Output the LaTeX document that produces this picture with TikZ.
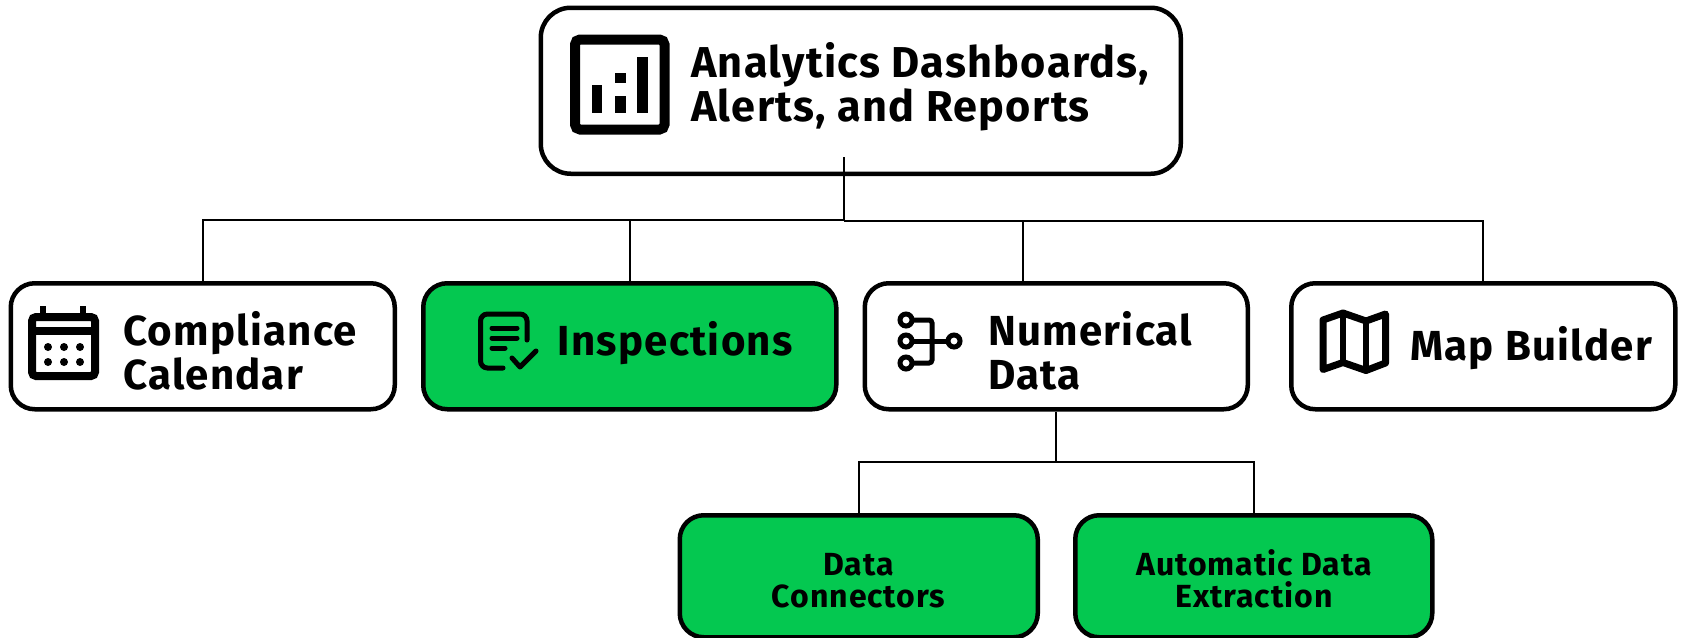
\documentclass[tikz,border=0pt]{standalone}
\usepackage{fontspec}
\setmainfont{Fira Sans}[LetterSpace=3]
\usetikzlibrary{positioning, shapes}
\definecolor{boxgreen}{HTML}{04C850}

\begin{document}
\begin{tikzpicture}[x=1pt, y=-1pt, line cap=butt]
\useasboundingbox (0,0) rectangle (1683,637);
\tikzstyle{every node}=[draw=none, inner sep=0pt];
\tikzstyle{box}=[draw, line width=4.5pt, rounded corners=24pt, anchor=north west, fill=white];
\tikzstyle{greenbox}=[box, fill=boxgreen];
\tikzstyle{bigtext}=[align=left, anchor=base west, font=\bfseries\fontsize{42}{43.5}\selectfont];
\tikzstyle{smalltext}=[align=center, anchor=base, font=\bfseries\fontsize{32}{32}\selectfont];
\tikzstyle{link}=[line width=2pt];
\tikzstyle{icon}=[line width=5pt];
% boxes
\node[box, rounded corners=30pt, minimum width=640pt, minimum height=166pt] (dash) at (538.5,5.5) {};
\node[box, minimum width=384pt, minimum height=126pt] (calendar) at (8.5,281) {};
\node[greenbox, minimum width=413pt, minimum height=126pt] (insp) at (421,281) {};
\node[box, minimum width=383pt, minimum height=126pt] (numeric) at (862.5,281) {};
\node[box, minimum width=384pt, minimum height=126pt] (map) at (1289,281) {};
\node[greenbox, minimum width=358pt, minimum height=122pt] (connect) at (677.5,513) {};
\node[greenbox, minimum width=357pt, minimum height=122pt] (extract) at (1073,513) {};
% labels
\node[bigtext, font=\bfseries\fontsize{43.2}{43.5}\selectfont] (dashtext) at (691,121) {Analytics Dashboards,\\Alerts, and Reports};
\node[bigtext] (caltext) at (123,389) {Compliance\\Calendar};
\node[bigtext] (insptext) at (557.5,355) {Inspections};
\node[bigtext] (numtext) at (988,389) {Numerical\\Data};
\node[bigtext] (maptext) at (1410,360) {Map Builder};
\node[smalltext] (conntext) at (858.5,607) {Data\\Connectors};
\node[smalltext] (exttext) at (1254,607) {Automatic Data\\Extraction};
% connectors
\coordinate (stem) at (844,157);
\coordinate (hub) at (844,220);
\coordinate (hubright) at (844,221);
\coordinate (numdrop) at (1023,281);
\coordinate (fork) at (numeric.south |- 0,462);
\draw[link] (stem) -- (hub);
\draw[link] (hub) -| (calendar.north);
\draw[link] (hub) -| (insp.north);
\draw[link] (hubright) -| (numdrop);
\draw[link] (hubright) -| (map.north);
\draw[link] (numeric.south) -- (fork);
\draw[link] (fork) -| (connect.north);
\draw[link] (fork) -| (extract.north);
% chart icon
\draw[line width=10pt, rounded corners=5pt] (575,39.5) rectangle (664.5,129.5);
\fill (591.5,85) rectangle (602,113);
\fill (614.5,73) rectangle (626,83);
\fill (614.5,96) rectangle (626,113);
\fill (637,57) rectangle (648,113);
% calendar icon
\draw[line width=8pt, rounded corners=4pt] (32,317) rectangle (95,376);
\fill (32,327) rectangle (95,335);
\draw[line width=6pt] (43,306) -- (43,315);
\draw[line width=6pt] (83,306) -- (83,315);
\foreach \px in {48,64,80} {
  \foreach \py in {347,362} {
    \fill (\px,\py) circle (4pt);
  }
}
% inspection icon
\draw[icon, line cap=round, rounded corners=7pt] (503,368) -- (480.5,368) -- (480.5,314) -- (527,314) -- (527,340);
\draw[icon, line cap=round] (492,328) -- (517,328);
\draw[icon, line cap=round] (492,338) -- (517,338);
\draw[icon, line cap=round] (492,348) -- (505,348);
\draw[icon, line cap=round, line join=round] (512,358) -- (520,367) -- (536,351);
% data icon
\draw[line width=5pt] (906,320) circle (6pt);
\draw[line width=5pt] (906,341) circle (6pt);
\draw[line width=5pt] (906,363) circle (6pt);
\draw[line width=5pt] (954,341) circle (6pt);
\draw[line width=5pt, rounded corners=3pt] (912,320) -- (932,320) -- (932,363) -- (912,363);
\draw[line width=5pt] (912,341) -- (948,341);
% map icon
\draw[line width=7pt, line join=round] (1323,320) -- (1343,313) -- (1366,321) -- (1385.5,314) -- (1385.5,363) -- (1366,370.5) -- (1343,362.5) -- (1323,369.5) -- cycle;
\draw[line width=6pt] (1343,313) -- (1343,362.5);
\draw[line width=6pt] (1366,321) -- (1366,370.5);
\end{tikzpicture}
\end{document}
